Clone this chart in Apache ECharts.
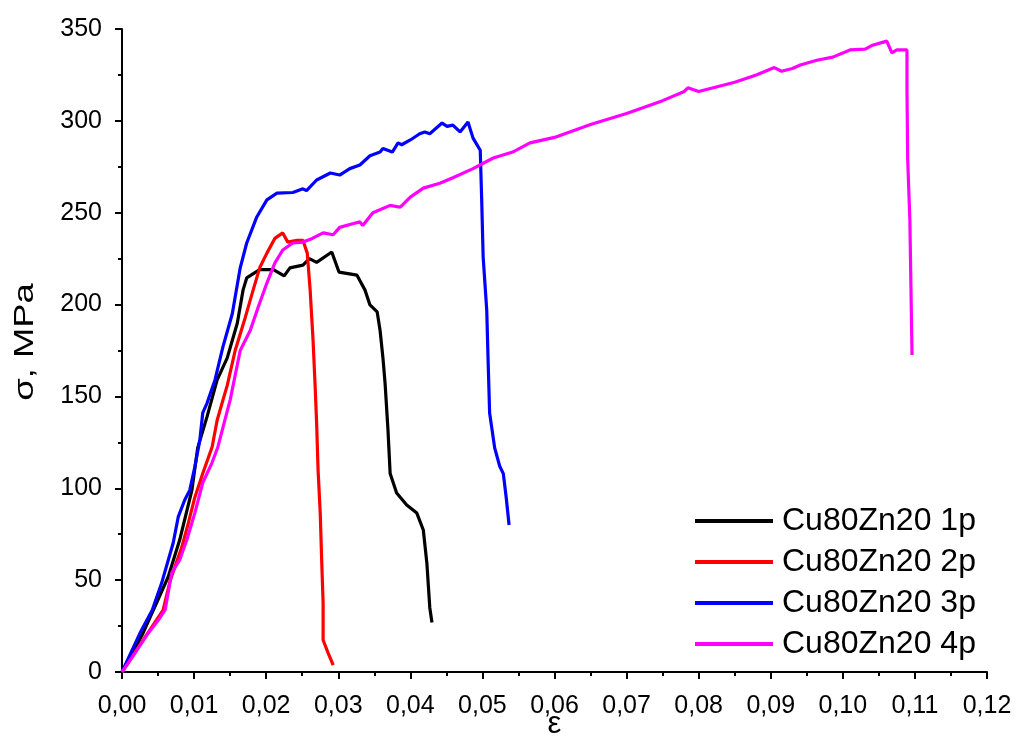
<!DOCTYPE html>
<html>
<head>
<meta charset="utf-8">
<script src="https://cdn.jsdelivr.net/npm/echarts@6/dist/echarts.min.js"></script>
<style>html,body{margin:0;padding:0;background:#fff;overflow:hidden;}#c{width:1018px;height:738px;}</style>
</head>
<body>
<div id="c"></div>
<script>
const seriesNames = ['Cu80Zn20 1p', 'Cu80Zn20 2p', 'Cu80Zn20 3p', 'Cu80Zn20 4p'];
const seriesColors = ['#000000', '#ff0000', '#0000ff', '#ff00ff'];
const xAxisTitle = 'ε';
const yAxisTitle = 'σ, MPa';

const data1p = [[0,0],[0.0029,21],[0.0064,51.7],[0.008,71.8],[0.0097,99],[0.0105,122],[0.0118,139],[0.0132,159],[0.0146,171],[0.016,190],[0.0168,208],[0.0173,214.5],[0.0191,219],[0.021,219],[0.0225,215.6],[0.0233,220],[0.0251,221.5],[0.026,225],[0.027,223],[0.0291,228.6],[0.0301,217.7],[0.0326,216],[0.0337,208],[0.0344,199.8],[0.0354,196],[0.0358,186],[0.0362,171],[0.0365,157],[0.0369,131.7],[0.0372,108],[0.0381,97.4],[0.0395,90.9],[0.0409,86.5],[0.0418,77.3],[0.0423,59],[0.0427,35],[0.043,27]];

const data2p = [[0,0],[0.0032,19],[0.0057,33.7],[0.0067,50],[0.0083,68],[0.0092,81],[0.0101,95],[0.0112,108],[0.0125,122.5],[0.0132,137],[0.014,148],[0.0146,156],[0.0157,175],[0.0171,193],[0.0182,208],[0.0191,220],[0.0201,228],[0.0212,236],[0.0223,239],[0.023,234],[0.0243,235],[0.0251,235],[0.0257,228],[0.0261,208],[0.0265,181],[0.0268,155],[0.027,135.5],[0.0272,110],[0.0275,86.5],[0.0277,61],[0.0279,37.6],[0.0279,17.4],[0.0286,10.3],[0.0293,3.8]];

const data3p = [[0,0],[0.0025,21.2],[0.0042,33.7],[0.0055,48.4],[0.0071,70.2],[0.0078,84.4],[0.0087,93.6],[0.0094,99],[0.0101,111.6],[0.0108,126.3],[0.0112,141],[0.0118,146.4],[0.0129,159],[0.014,177],[0.0153,195],[0.0164,220],[0.0173,233.5],[0.0187,247.7],[0.0201,257],[0.0215,260.7],[0.0237,261],[0.0251,263],[0.0256,262],[0.027,267.8],[0.0289,271.6],[0.0302,270.5],[0.0316,274],[0.033,276],[0.0344,281],[0.0358,283],[0.0362,285],[0.0375,283],[0.0383,288],[0.0388,287],[0.04,289.6],[0.0413,293],[0.042,294],[0.0427,293],[0.0444,298.8],[0.0451,297],[0.0459,297.7],[0.0469,294],[0.048,299.4],[0.0487,290.6],[0.0497,284],[0.0499,257],[0.0501,226],[0.0506,197],[0.0508,168],[0.051,141],[0.0517,122],[0.0524,112],[0.0529,108],[0.0533,95],[0.0537,80]];

const data4p = [[0,0],[0.0018,10.3],[0.0036,21],[0.005,28],[0.006,34],[0.0064,43],[0.0069,54],[0.008,61],[0.009,72],[0.0101,86.5],[0.0112,103],[0.0125,114],[0.0133,122.5],[0.014,133],[0.015,148],[0.0164,175],[0.0178,186],[0.0189,198.7],[0.0201,211.7],[0.0212,222.6],[0.0223,229.7],[0.0237,233.5],[0.0251,234],[0.0264,236],[0.0279,239],[0.0293,238],[0.0302,242],[0.032,244],[0.033,245],[0.0334,243],[0.0348,250],[0.0372,254],[0.0386,253],[0.04,258.5],[0.0418,263.4],[0.0441,266],[0.0459,269],[0.0487,274],[0.0515,279.8],[0.0542,283],[0.0566,288],[0.06,291],[0.065,298],[0.07,304],[0.075,311],[0.078,316],[0.0785,318],[0.08,316],[0.085,321],[0.088,325],[0.0905,329],[0.0915,327],[0.093,328.5],[0.0941,330.4],[0.0964,333],[0.0986,334.7],[0.101,338.6],[0.1031,339],[0.104,341],[0.1061,343.4],[0.1068,337],[0.1075,338.6],[0.1089,338.6],[0.1089,316.8],[0.109,278.7],[0.1093,246],[0.1096,172.5]];

const allData = [data1p, data2p, data3p, data4p];

const chart = echarts.init(document.getElementById('c'), null, {renderer: 'canvas'});
const font = 'Liberation Sans, Arial, sans-serif';
const axisCommon = {
  axisLine: {show: true, onZero: false, lineStyle: {color: '#000', width: 2}},
  axisTick: {show: true, inside: false, length: 7, lineStyle: {color: '#000', width: 2}},
  minorTick: {show: true, splitNumber: 2, length: 4, lineStyle: {color: '#000', width: 2}},
  splitLine: {show: false},
  minorSplitLine: {show: false}
};
chart.setOption({
  animation: false,
  backgroundColor: '#fff',
  grid: {left: 122, right: 31, top: 29, bottom: 66, containLabel: false, outerBoundsMode: 'none'},
  xAxis: Object.assign({
    type: 'value', min: 0, max: 0.12, interval: 0.01,
    name: xAxisTitle, nameLocation: 'middle', nameGap: 37, nameMoveOverlap: false,
    nameTextStyle: {fontFamily: font, fontSize: 31, color: '#000'},
    axisLabel: {fontFamily: font, fontSize: 25, color: '#000', margin: 22,
      formatter: v => v.toFixed(2).replace('.', ',')}
  }, axisCommon),
  yAxis: Object.assign({
    type: 'value', min: 0, max: 350, interval: 50,
    axisLabel: {fontFamily: font, fontSize: 25, color: '#000', margin: 20}
  }, axisCommon),
  graphic: [{
    type: 'text', x: 25, y: 342, rotation: Math.PI / 2, scaleX: 1.3,
    style: {text: yAxisTitle, fontFamily: font, fontSize: 28, fill: '#000', align: 'center', verticalAlign: 'middle'}
  }],
  legend: {
    orient: 'vertical', left: 695, top: 503, padding: 0,
    itemWidth: 78, itemHeight: 4, itemGap: 5, icon: 'rect',
    textStyle: {fontFamily: font, fontSize: 32, color: '#000', lineHeight: 36, padding: [0, 0, 0, 4]},
    data: seriesNames
  },
  series: seriesNames.map((n, i) => ({
    name: n, type: 'line', data: allData[i], showSymbol: false, symbol: 'none',
    lineStyle: {color: seriesColors[i], width: 3.2}, itemStyle: {color: seriesColors[i]}
  }))
});
</script>
</body>
</html>
